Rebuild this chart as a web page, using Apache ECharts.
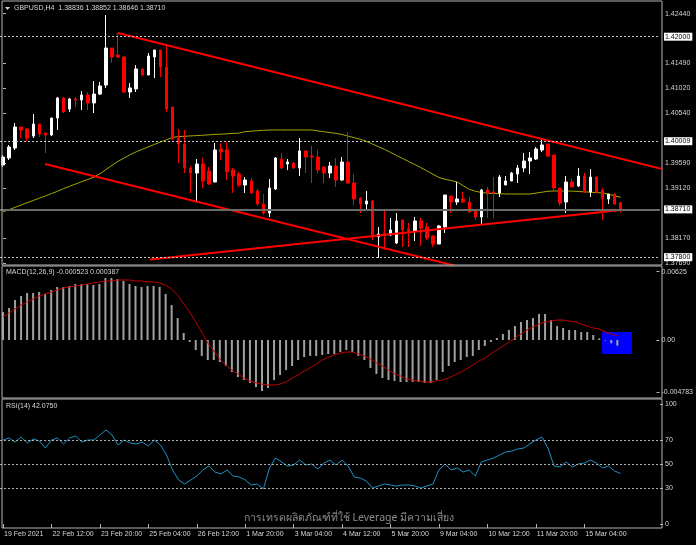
<!DOCTYPE html>
<html><head><meta charset="utf-8">
<script src="https://cdn.jsdelivr.net/npm/echarts@6/dist/echarts.min.js"></script>
<style>html,body{margin:0;padding:0;background:#000;}#c{width:696px;height:545px;}</style>
</head><body><div id="c"></div>
<script>
// ---- DATA ----
const timeLabels = ['19 Feb 2021','22 Feb 12:00','23 Feb 20:00','25 Feb 04:00','26 Feb 12:00','1 Mar 20:00','3 Mar 04:00','4 Mar 12:00','5 Mar 20:00','9 Mar 04:00','10 Mar 12:00','11 Mar 20:00','15 Mar 04:00'];
// [open, close, low, high]
const ohlc = [
[1.39556,1.39708,1.39518,1.39746],[1.39689,1.39899,1.39651,1.39937],[1.39880,1.40280,1.39842,1.40356],[1.40280,1.40223,1.40070,1.40280],
[1.40242,1.40070,1.40013,1.40261],[1.40108,1.40337,1.40070,1.40527],[1.40337,1.40146,1.40089,1.40337],[1.40165,1.40127,1.39784,1.40165],
[1.40127,1.40451,1.40108,1.40451],[1.40451,1.40832,1.40223,1.40851],[1.40832,1.40565,1.40546,1.40851],[1.40622,1.40813,1.40565,1.40832],
[1.40813,1.40794,1.40661,1.40851],[1.40794,1.40889,1.40603,1.40966],[1.40889,1.40737,1.40603,1.40946],[1.40737,1.40908,1.40546,1.41156],
[1.40908,1.41061,1.40889,1.41137],[1.41080,1.41785,1.41023,1.42413],[1.41785,1.41613,1.41499,1.41785],[1.41651,1.41613,1.41594,1.42070],
[1.41613,1.40946,1.40927,1.41632],[1.40946,1.41023,1.40832,1.41118],[1.41004,1.41385,1.40946,1.41461],[1.41385,1.41270,1.41251,1.41385],
[1.41270,1.41632,1.41270,1.41690],[1.41613,1.41747,1.41213,1.41747],[1.41747,1.41423,1.41232,1.41747],[1.41423,1.40622,1.40565,1.41842],
[1.40661,1.40051,1.40032,1.40661],[1.40070,1.39956,1.39594,1.40242],[1.39956,1.39499,1.39403,1.40223],[1.39499,1.39403,1.39023,1.39537],
[1.39403,1.39575,1.38851,1.39670],[1.39575,1.39251,1.39118,1.39689],[1.39442,1.39194,1.39175,1.39518],[1.39232,1.39842,1.39232,1.39975],
[1.39861,1.39803,1.39651,1.39975],[1.39842,1.39423,1.39270,1.39994],[1.39461,1.39346,1.39023,1.39499],[1.39384,1.39175,1.39137,1.39423],
[1.39175,1.39270,1.39023,1.39327],[1.39251,1.39023,1.39003,1.39308],[1.39061,1.38813,1.38775,1.39099],[1.38813,1.38641,1.38603,1.39003],
[1.38641,1.39118,1.38565,1.39289],[1.39099,1.39689,1.39080,1.39708],[1.39670,1.39499,1.39480,1.39784],[1.39575,1.39613,1.39461,1.39670],
[1.39594,1.39499,1.39480,1.39613],[1.39499,1.39823,1.39346,1.40070],[1.39823,1.39708,1.39403,1.39842],[1.39727,1.39708,1.39213,1.39918],
[1.39708,1.39461,1.39403,1.39842],[1.39518,1.39403,1.39213,1.39518],[1.39403,1.39537,1.39308,1.39613],[1.39537,1.39270,1.39137,1.39689],
[1.39270,1.39613,1.39251,1.39708],[1.39613,1.39213,1.39194,1.40184],[1.39213,1.38908,1.38794,1.39384],[1.38927,1.38813,1.38641,1.38946],
[1.38813,1.38870,1.38699,1.39061],[1.38870,1.38184,1.38127,1.38889],[1.38184,1.38241,1.37784,1.38375],[1.38260,1.38222,1.37937,1.38699],
[1.38222,1.38318,1.38203,1.38546],[1.38070,1.38489,1.38051,1.38641],[1.38508,1.38318,1.37994,1.38508],[1.38337,1.38299,1.37994,1.38451],
[1.38299,1.38489,1.38108,1.38565],[1.38489,1.38356,1.38013,1.38546],[1.38375,1.38165,1.38127,1.38451],[1.38203,1.38051,1.37994,1.38222],
[1.38051,1.38394,1.38051,1.38413],[1.38375,1.38984,1.38260,1.38984],[1.38965,1.38851,1.38641,1.38965],[1.38851,1.38908,1.38794,1.39232],
[1.38908,1.38851,1.38832,1.39042],[1.38851,1.38660,1.38641,1.38946],[1.38699,1.38565,1.38508,1.38699],[1.38565,1.39080,1.38432,1.39099],
[1.39080,1.39023,1.38546,1.39137],[1.39042,1.39023,1.38546,1.39327],[1.39023,1.39327,1.38946,1.39365],[1.39175,1.39251,1.39175,1.39346],
[1.39251,1.39403,1.39251,1.39423],[1.39384,1.39499,1.39213,1.39556],[1.39499,1.39632,1.39423,1.39784],[1.39632,1.39689,1.39384,1.39803],
[1.39670,1.39861,1.39651,1.39899],[1.39842,1.39937,1.39803,1.40051],[1.39956,1.39727,1.39708,1.39956],[1.39746,1.39118,1.39061,1.39746],
[1.39118,1.38832,1.38775,1.39118],[1.38851,1.39232,1.38641,1.39346],[1.39232,1.39137,1.39137,1.39289],[1.39156,1.39346,1.39137,1.39499],
[1.39346,1.39042,1.39023,1.39403],[1.39042,1.39327,1.38946,1.39480],[1.39327,1.39042,1.39023,1.39327],[1.39080,1.38908,1.38508,1.39118],
[1.38908,1.39003,1.38813,1.39003],[1.39003,1.38813,1.38794,1.39003],[1.38836,1.38710,1.38646,1.38852]
];
const ma = [1.38662,1.38706,1.38750,1.38794,1.38838,1.38881,1.38925,1.38967,1.39011,1.39055,
1.39106,1.39150,1.39194,1.39238,1.39281,1.39325,1.39388,1.39470,1.39552,1.39626,
1.39689,1.39752,1.39807,1.39855,1.39901,1.39948,1.39994,1.40038,1.40082,1.40097,
1.40103,1.40110,1.40116,1.40123,1.40131,1.40137,1.40144,1.40150,1.40158,1.40163,
1.40192,1.40200,1.40209,1.40217,1.40223,1.40223,1.40223,1.40223,1.40223,1.40223,
1.40223,1.40223,1.40205,1.40190,1.40173,1.40158,1.40137,1.40106,1.40076,1.40047,
1.40007,1.39956,1.39904,1.39855,1.39796,1.39737,1.39680,1.39622,1.39565,1.39506,
1.39443,1.39380,1.39318,1.39285,1.39259,1.39232,1.39161,1.39091,1.39057,1.39032,
1.39019,1.39014,1.39009,1.39003,1.39003,1.39003,1.39003,1.39003,1.39021,1.39038,
1.39055,1.39061,1.39061,1.39061,1.39059,1.39051,1.39045,1.39038,1.39030,1.39024,
1.38999,1.38969,1.38942];
const macdHist = [0.00256,0.00293,0.00366,0.00403,0.00430,0.00430,0.00439,0.00421,0.00458,0.00485,
0.00485,0.00494,0.00512,0.00512,0.00512,0.00503,0.00512,0.00567,0.00567,0.00558,
0.00540,0.00512,0.00494,0.00485,0.00494,0.00494,0.00485,0.00421,0.00320,0.00201,
0.00064,-0.00018,-0.00092,-0.00146,-0.00183,-0.00183,-0.00201,-0.00238,-0.00293,-0.00339,
-0.00366,-0.00393,-0.00430,-0.00467,-0.00439,-0.00366,-0.00320,-0.00275,-0.00238,-0.00183,
-0.00156,-0.00146,-0.00146,-0.00137,-0.00128,-0.00128,-0.00110,-0.00092,-0.00110,-0.00146,
-0.00183,-0.00256,-0.00311,-0.00348,-0.00366,-0.00375,-0.00384,-0.00384,-0.00384,-0.00384,
-0.00393,-0.00393,-0.00366,-0.00293,-0.00238,-0.00201,-0.00183,-0.00156,-0.00146,-0.00092,
-0.00055,-0.00018,0.00018,0.00055,0.00092,0.00128,0.00165,0.00183,0.00201,0.00238,
0.00238,0.00183,0.00128,0.00110,0.00092,0.00092,0.00073,0.00073,0.00046,0.00015,
-0.00005,-0.00030,-0.000523];
const macdSignal = [0.00210,0.00247,0.00284,0.00320,0.00348,0.00375,0.00403,0.00421,0.00439,0.00458,
0.00476,0.00485,0.00494,0.00503,0.00512,0.00522,0.00531,0.00540,0.00540,0.00549,
0.00549,0.00549,0.00540,0.00540,0.00531,0.00531,0.00522,0.00503,0.00467,0.00412,
0.00329,0.00256,0.00165,0.00073,-0.00027,-0.00101,-0.00174,-0.00229,-0.00275,-0.00311,
-0.00348,-0.00375,-0.00393,-0.00403,-0.00412,-0.00412,-0.00403,-0.00384,-0.00348,-0.00320,
-0.00284,-0.00256,-0.00220,-0.00183,-0.00156,-0.00137,-0.00119,-0.00110,-0.00110,-0.00128,
-0.00146,-0.00174,-0.00210,-0.00238,-0.00275,-0.00311,-0.00329,-0.00357,-0.00366,-0.00375,
-0.00384,-0.00384,-0.00375,-0.00366,-0.00348,-0.00320,-0.00293,-0.00265,-0.00229,-0.00192,
-0.00165,-0.00128,-0.00092,-0.00055,-0.00018,0.00018,0.00055,0.00092,0.00119,0.00146,
0.00165,0.00174,0.00183,0.00183,0.00174,0.00165,0.00146,0.00128,0.00110,0.00101,
0.00073,0.00055,0.000387];
const rsi = [70.0,71.7,68.3,72.5,67.5,70.8,69.2,63.3,70.0,71.7,
66.7,71.7,73.3,68.3,70.0,70.0,74.2,78.3,74.2,65.8,
70.0,67.5,66.7,68.3,65.0,70.0,65.8,57.5,45.0,36.7,
33.3,36.7,40.0,45.0,48.3,43.3,41.7,45.0,40.0,39.2,
36.7,32.5,33.3,29.2,46.7,55.0,51.7,48.3,49.2,53.3,
49.2,50.0,45.8,50.8,53.3,49.2,53.3,48.3,39.2,38.3,
35.8,30.0,31.7,33.3,32.5,31.7,32.5,32.5,31.7,30.0,
31.7,33.3,45.0,50.0,45.0,46.7,43.3,45.0,40.0,51.7,
53.3,55.0,57.5,60.0,60.8,62.5,63.3,66.7,70.0,72.5,
63.3,48.3,47.5,51.7,47.5,50.0,50.8,53.3,50.8,46.7,
48.3,44.2,42.075];
const priceTicks = [1.42440,1.41490,1.41020,1.40540,1.39590,1.39120,1.38170,1.37690];
const priceLevels = [1.42000,1.40009,1.37800];
const lastPrice = 1.38710;
const macdTicks = [0.00625,0,-0.004783];
const rsiTicks = [100,70,50,30,0];
const rsiLevels = [70,50,30];
// trendlines drawn on the chart: [barIndex, price]
const trendUpper = [[19,1.42070],[108.8,1.39480]];
const trendLowerDown = [[6.93,1.39575],[75.5,1.37613]];
const trendLowerUp = [[24.27,1.37756],[102.1,1.38699]];

// ---- CHART ----
const N = 109;
const cats = [];
for (let i = 0; i < N; i++) cats.push((i % 8 === 0 && timeLabels[i/8]) ? timeLabels[i/8] : 'b' + i);
const FONT = 'Liberation Sans, Arial, sans-serif';
const TXT = '#d6d6d6';
const FR = '#b4b4b4';
const chart = echarts.init(document.getElementById('c'), null, {renderer: 'canvas'});
const lblIdx = (idx) => idx % 8 === 0 && (idx / 8) < timeLabels.length;
const gridX = {left: 0, width: 660};
const boxLabel = (txt) => ({show: true, position: 'end', distance: 4, formatter: txt, backgroundColor: '#ffffff', color: '#000', fontSize: 7, fontFamily: FONT, padding: [1, 2, 0, 1]});
const levelLines = priceLevels.map(v => ({yAxis: v, lineStyle: {color: '#c8c8c8', type: [2, 2], width: 1}, label: boxLabel(v.toFixed(5))}))
  .concat([{yAxis: lastPrice, lineStyle: {color: '#6a6a6a', type: 'solid', width: 2}, label: boxLabel(lastPrice.toFixed(5))}]);
chart.setOption({
  backgroundColor: '#000',
  animation: false,
  grid: [
    Object.assign({top: 2, height: 262}, gridX),
    Object.assign({top: 268, height: 130}, gridX),
    Object.assign({top: 401, height: 126}, gridX)
  ],
  xAxis: [
    {type: 'category', gridIndex: 0, data: cats, show: false, boundaryGap: true},
    {type: 'value', gridIndex: 0, min: -0.5, max: N - 0.5, show: false},
    {type: 'category', gridIndex: 1, data: cats, show: false, boundaryGap: true},
    {type: 'category', gridIndex: 2, data: cats, boundaryGap: true,
      axisLine: {show: false},
      axisTick: {show: true, alignWithLabel: true, interval: lblIdx, length: 4, lineStyle: {color: FR}},
      axisLabel: {interval: lblIdx, formatter: (v) => timeLabels.indexOf(v) >= 0 ? v : '', align: 'left', color: TXT, fontSize: 7, fontFamily: FONT, margin: 4, padding: [0,0,0,1]},
      splitLine: {show: false}}
  ],
  yAxis: [
    {type: 'value', gridIndex: 0, position: 'right', min: 1.37670, max: 1.42661,
      splitLine: {show: false}, axisLine: {show: false},
      axisTick: {show: true, customValues: priceTicks, length: 3, lineStyle: {color: FR}},
      axisLabel: {customValues: priceTicks, formatter: (v) => v.toFixed(5), color: TXT, fontSize: 7, fontFamily: FONT, margin: 5}},
    {type: 'value', gridIndex: 1, position: 'right', min: -0.005306, max: 0.006587,
      splitLine: {show: false}, axisLine: {show: false},
      axisTick: {show: true, customValues: macdTicks, length: 3, lineStyle: {color: FR}},
      axisLabel: {customValues: macdTicks, formatter: (v) => v === 0 ? '0.00' : (Math.abs(v - 0.00625) < 1e-9 ? '0.00625' : '-0.004783'), color: TXT, fontSize: 7, fontFamily: FONT, margin: 5}},
    {type: 'value', gridIndex: 2, position: 'right', min: -2.5, max: 102.5,
      splitLine: {show: false}, axisLine: {show: false},
      axisTick: {show: true, customValues: rsiTicks, length: 3, lineStyle: {color: FR}},
      axisLabel: {customValues: rsiTicks, formatter: (v) => String(v), color: TXT, fontSize: 7, fontFamily: FONT, margin: 5}}
  ],
  graphic: [
    {type: 'rect', z: 0, shape: {x: 602, y: 332, width: 30, height: 22}, style: {fill: '#0000ff'}},
    {type: 'rect', z: 100, shape: {x: 2, y: 1, width: 660, height: 264}, style: {fill: 'none', stroke: FR, lineWidth: 1}},
    {type: 'rect', z: 100, shape: {x: 2, y: 266, width: 660, height: 132}, style: {fill: 'none', stroke: FR, lineWidth: 1}},
    {type: 'rect', z: 100, shape: {x: 2, y: 399, width: 660, height: 129}, style: {fill: 'none', stroke: FR, lineWidth: 1}},
    {type: 'polygon', z: 100, shape: {points: [[5,7],[10,7],[7.5,10]]}, style: {fill: TXT}},
    {type: 'text', z: 100, style: {text: 'GBPUSD,H4  1.38836 1.38852 1.38646 1.38710', x: 14, y: 8.5, verticalAlign: 'middle', fill: TXT, fontSize: 7, fontFamily: FONT}},
    {type: 'text', z: 100, style: {text: 'MACD(12,26,9) -0.000523 0.000387', x: 6, y: 272.5, verticalAlign: 'middle', fill: TXT, fontSize: 7, fontFamily: FONT}},
    {type: 'text', z: 100, style: {text: 'RSI(14) 42.0750', x: 6, y: 406, verticalAlign: 'middle', fill: TXT, fontSize: 7, fontFamily: FONT}},
    {type: 'text', z: 100, style: {text: 'การเทรดผลิตภัณฑ์ที่ใช้ Leverage มีความเสี่ยง', x: 349, y: 518, align: 'center', verticalAlign: 'middle', fill: '#8c8c8c', fontSize: 10.5, fontFamily: '"Noto Sans", "DejaVu Sans", sans-serif'}}
  ],
  series: [
    {type: 'candlestick', xAxisIndex: 0, yAxisIndex: 0, data: ohlc, barWidth: 3, silent: true,
      itemStyle: {color: '#ffffff', color0: '#ff0000', borderColor: '#ffffff', borderColor0: '#ff0000', borderWidth: 1}},
    {type: 'line', xAxisIndex: 0, yAxisIndex: 0, data: ma, symbol: 'none', silent: true, lineStyle: {color: '#a8a800', width: 1}, z: 1,
      markLine: {silent: true, symbol: 'none', animation: false, precision: 5, data: levelLines}},
    {type: 'line', xAxisIndex: 1, yAxisIndex: 0, data: trendUpper, symbol: 'none', silent: true, lineStyle: {color: '#ff0000', width: 2}, z: 3},
    {type: 'line', xAxisIndex: 1, yAxisIndex: 0, data: trendLowerDown, symbol: 'none', silent: true, lineStyle: {color: '#ff0000', width: 2}, z: 3},
    {type: 'line', xAxisIndex: 1, yAxisIndex: 0, data: trendLowerUp, symbol: 'none', silent: true, lineStyle: {color: '#ff0000', width: 2}, z: 3},
    {type: 'bar', xAxisIndex: 2, yAxisIndex: 1, data: macdHist, barWidth: 2, silent: true, itemStyle: {color: '#a0a0a0'}},
    {type: 'line', xAxisIndex: 2, yAxisIndex: 1, data: macdSignal, symbol: 'none', silent: true, lineStyle: {color: '#c00000', width: 1}},
    {type: 'line', xAxisIndex: 3, yAxisIndex: 2, data: rsi, symbol: 'none', silent: true, lineStyle: {color: '#2090c4', width: 1},
      markLine: {silent: true, symbol: 'none', label: {show: false},
        data: rsiLevels.map(v => ({yAxis: v})), lineStyle: {color: '#b0b0b0', type: [2, 2], width: 1}}}
  ]
});
</script></body></html>
